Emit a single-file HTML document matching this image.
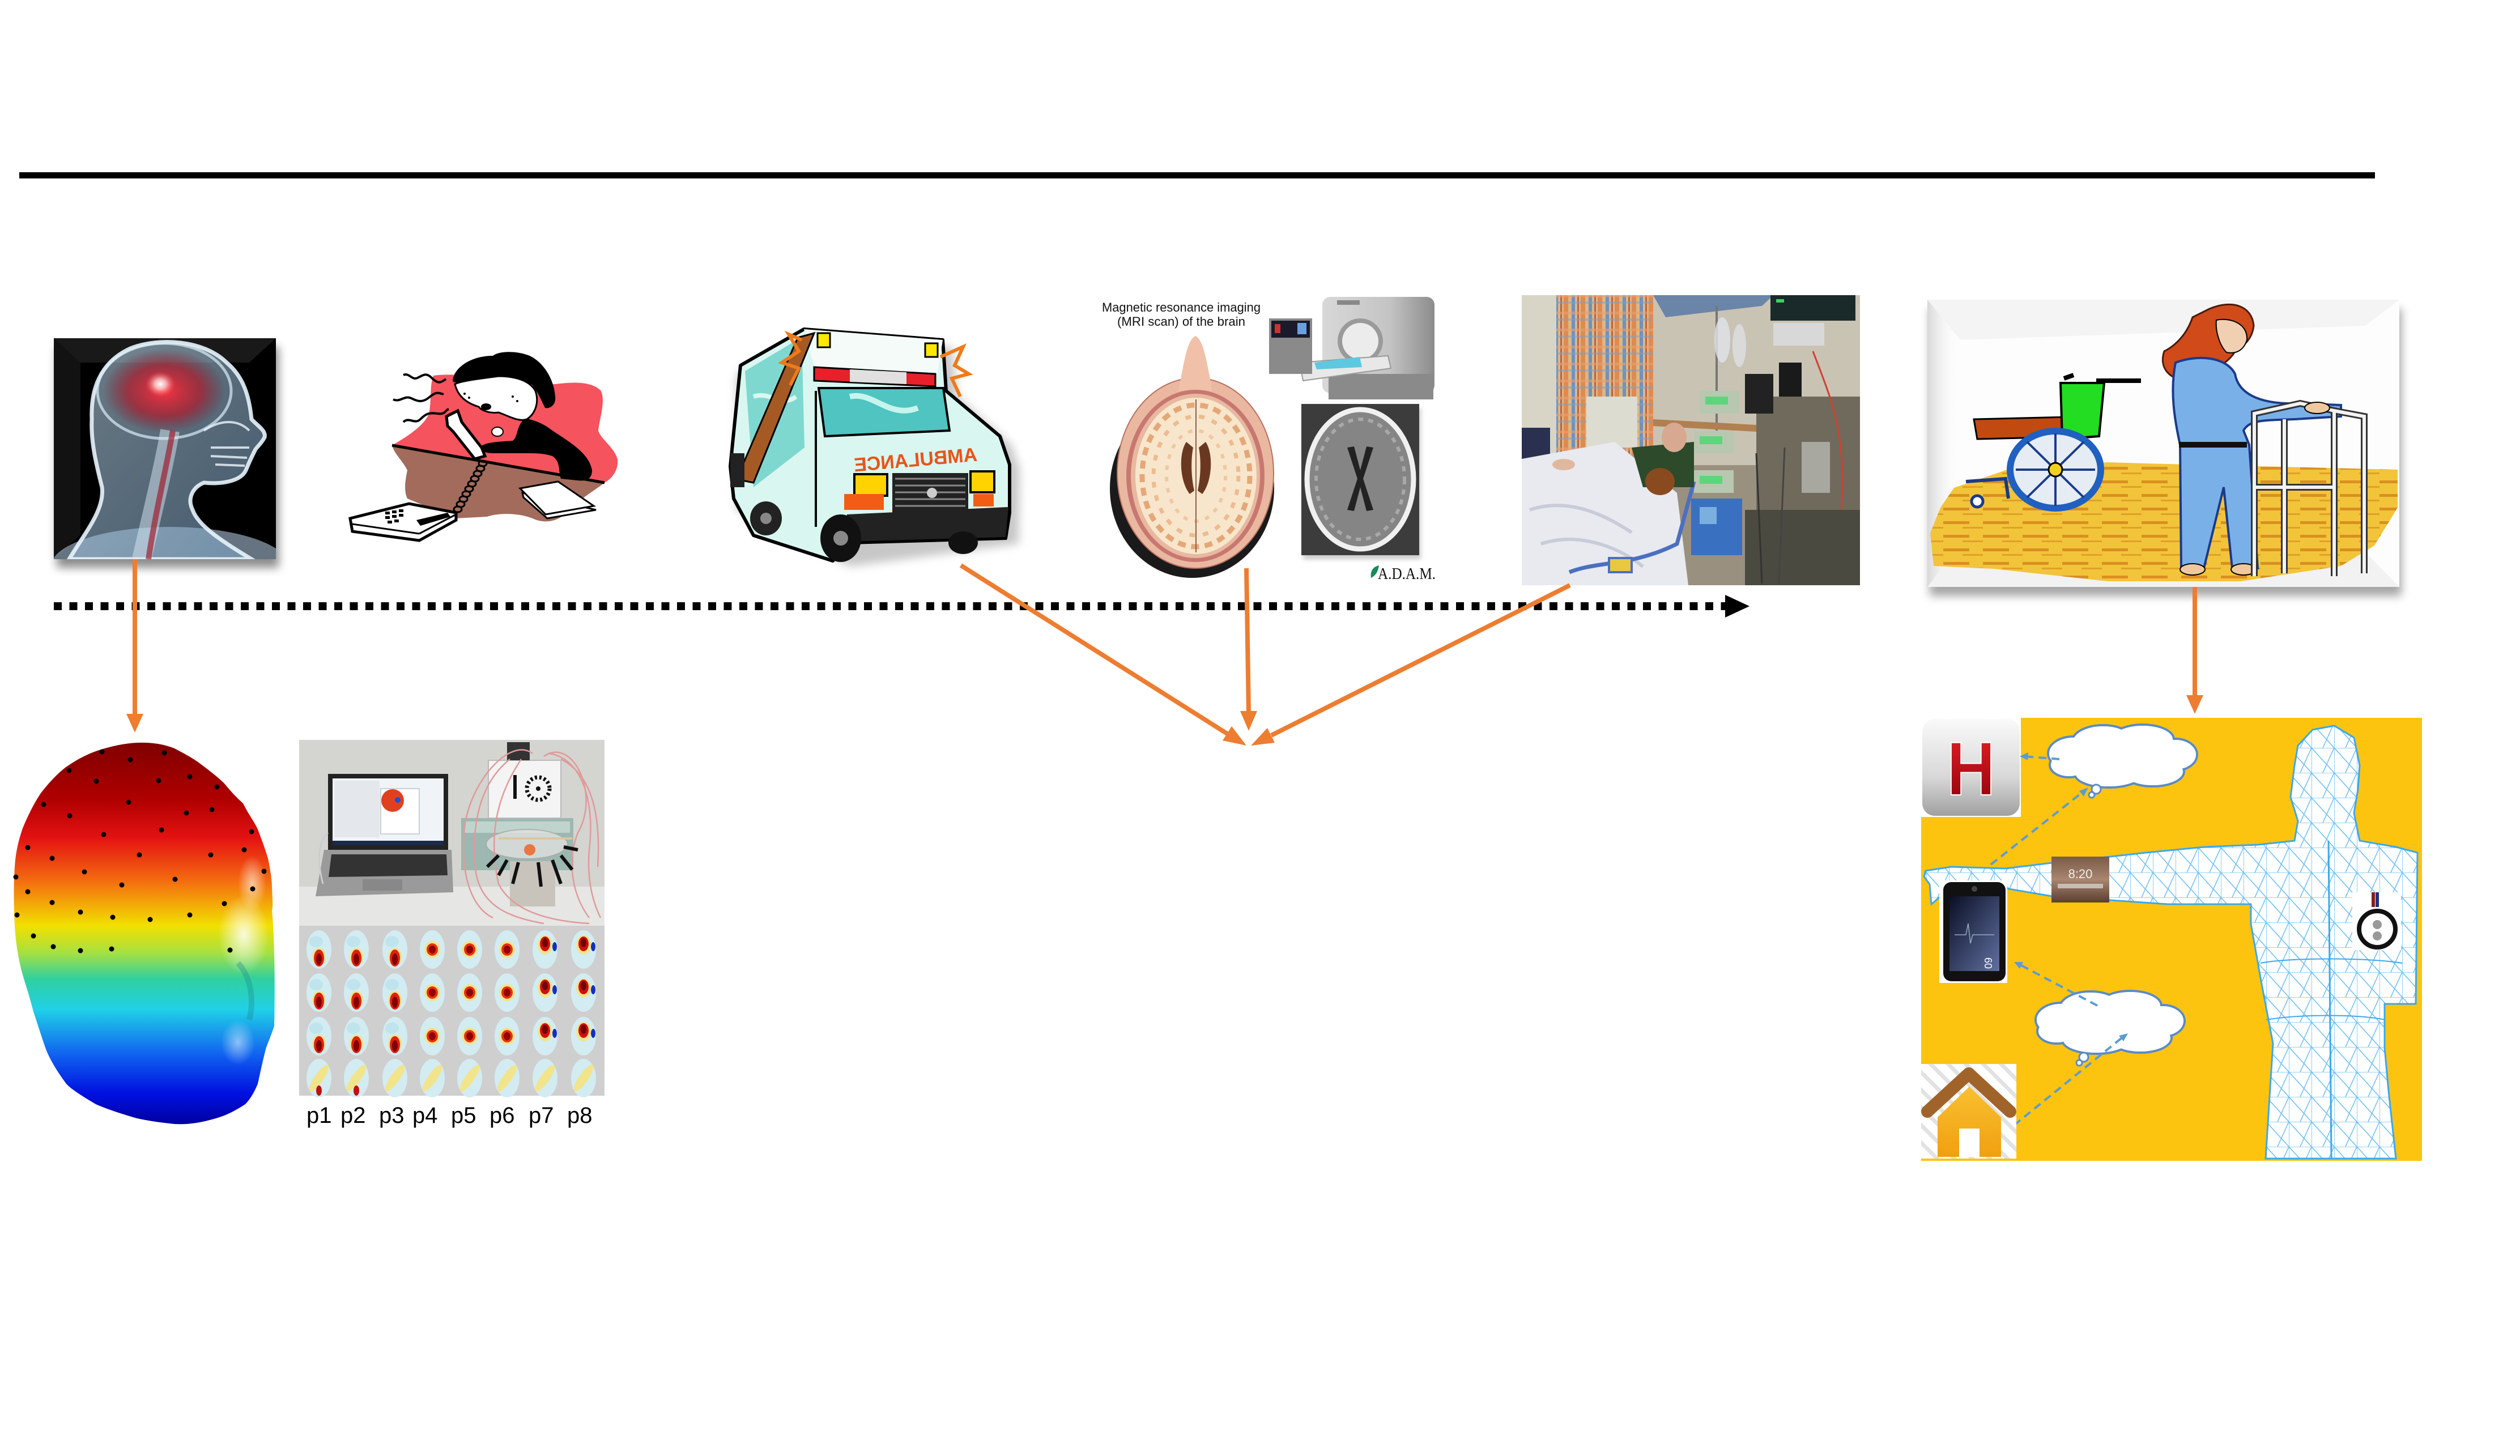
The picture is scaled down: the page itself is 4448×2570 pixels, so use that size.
<!DOCTYPE html>
<html><head><meta charset="utf-8">
<style>
html,body{margin:0;padding:0;background:#fff;}
body{width:4448px;height:2570px;overflow:hidden;}
svg{display:block;}
</style></head><body>
<svg width="4448" height="2570" viewBox="0 0 4448 2570" xmlns="http://www.w3.org/2000/svg">
<defs>
  <filter id="blur8" x="-20%" y="-20%" width="140%" height="140%"><feGaussianBlur stdDeviation="8"/></filter>
  <filter id="blur4" x="-20%" y="-20%" width="140%" height="140%"><feGaussianBlur stdDeviation="4"/></filter>
  <clipPath id="clipBrain"><rect x="95" y="597" width="392" height="390"/></clipPath>
  <clipPath id="clipHosp"><rect x="2686" y="521" width="597" height="512"/></clipPath>
  <clipPath id="clipWheel"><rect x="3402" y="529" width="833" height="507"/></clipPath>
  <clipPath id="clipEEG"><rect x="528" y="1306" width="539" height="328"/></clipPath>
  <radialGradient id="brainGlow" cx="0.5" cy="0.5" r="0.5">
    <stop offset="0" stop-color="#ff3040" stop-opacity="0.95"/>
    <stop offset="0.6" stop-color="#b01828" stop-opacity="0.7"/>
    <stop offset="1" stop-color="#801020" stop-opacity="0"/>
  </radialGradient>
  <radialGradient id="whiteSpot" cx="0.5" cy="0.5" r="0.5">
    <stop offset="0" stop-color="#ffffff"/>
    <stop offset="0.4" stop-color="#ffd0d0" stop-opacity="0.8"/>
    <stop offset="1" stop-color="#ff6060" stop-opacity="0"/>
  </radialGradient>
  <linearGradient id="headGrad" gradientUnits="userSpaceOnUse" x1="0" y1="1311" x2="0" y2="1984">
    <stop offset="0" stop-color="#800000"/>
    <stop offset="0.15" stop-color="#b00000"/>
    <stop offset="0.25" stop-color="#e41212"/>
    <stop offset="0.36" stop-color="#f46a10"/>
    <stop offset="0.48" stop-color="#f2e000"/>
    <stop offset="0.55" stop-color="#a8e040"/>
    <stop offset="0.62" stop-color="#30d0a0"/>
    <stop offset="0.70" stop-color="#20d0e8"/>
    <stop offset="0.82" stop-color="#1060f0"/>
    <stop offset="0.92" stop-color="#0010e0"/>
    <stop offset="1" stop-color="#0000a0"/>
  </linearGradient>
  <radialGradient id="faceHi" cx="0.5" cy="0.5" r="0.5">
    <stop offset="0" stop-color="#ffffff" stop-opacity="0.85"/>
    <stop offset="1" stop-color="#ffffff" stop-opacity="0"/>
  </radialGradient>
  <linearGradient id="xhead" x1="0" y1="0" x2="1" y2="1">
    <stop offset="0" stop-color="#c8e2f4"/>
    <stop offset="1" stop-color="#7aa4c8"/>
  </linearGradient>
  <linearGradient id="hIcon" x1="0" y1="0" x2="0" y2="1">
    <stop offset="0" stop-color="#fafafa"/>
    <stop offset="0.6" stop-color="#d8d8d8"/>
    <stop offset="1" stop-color="#a0a0a0"/>
  </linearGradient>
  <linearGradient id="hRed" x1="0" y1="0" x2="0" y2="1">
    <stop offset="0" stop-color="#e8202a"/>
    <stop offset="1" stop-color="#8a0008"/>
  </linearGradient>
  <linearGradient id="phoneScr" x1="0" y1="0" x2="1" y2="1">
    <stop offset="0" stop-color="#0a0f25"/>
    <stop offset="1" stop-color="#6070a0"/>
  </linearGradient>
  <linearGradient id="wood" x1="0" y1="0" x2="0" y2="1">
    <stop offset="0" stop-color="#7a5a48"/>
    <stop offset="0.5" stop-color="#a88670"/>
    <stop offset="1" stop-color="#5a3e30"/>
  </linearGradient>
  <linearGradient id="houseBody" x1="0" y1="0" x2="0" y2="1">
    <stop offset="0" stop-color="#f9c030"/>
    <stop offset="1" stop-color="#f0a010"/>
  </linearGradient>
  <linearGradient id="bevelL" x1="0" y1="0" x2="1" y2="0">
    <stop offset="0" stop-color="#d8d8d8"/>
    <stop offset="1" stop-color="#ffffff" stop-opacity="0"/>
  </linearGradient>
  <linearGradient id="gantry" x1="0" y1="0" x2="1" y2="0">
    <stop offset="0" stop-color="#d8d8d8"/>
    <stop offset="0.6" stop-color="#c4c4c4"/>
    <stop offset="1" stop-color="#8c8c8c"/>
  </linearGradient>
  <pattern id="plaid" width="30" height="30" patternUnits="userSpaceOnUse">
    <rect width="30" height="30" fill="#d8b888"/>
    <rect x="0" width="8" height="30" fill="#e08a50"/>
    <rect x="14" width="6" height="30" fill="#7090c0"/>
    <rect x="24" width="3" height="30" fill="#c06040"/>
    <rect y="10" width="30" height="5" fill="#e8a070" opacity=".6"/>
    <rect y="22" width="30" height="4" fill="#80a0c8" opacity=".5"/>
  </pattern>
  <pattern id="stripes" width="22" height="22" patternUnits="userSpaceOnUse" patternTransform="rotate(-45)">
    <rect width="22" height="22" fill="#ffffff"/>
    <rect width="7" height="22" fill="#e2e2e2"/>
  </pattern>
  <pattern id="wire" width="40" height="44" patternUnits="userSpaceOnUse">
    <path d="M0 0V44M0 0H40M0 0L40 44M40 0L20 44" stroke="#3aa8ee" stroke-width="1.6" fill="none"/>
  </pattern>
  <pattern id="floor" width="70" height="24" patternUnits="userSpaceOnUse">
    <rect width="70" height="24" fill="#f2c43a"/>
    <rect y="8" width="46" height="5" fill="#d89020"/>
    <rect x="34" y="18" width="36" height="3" fill="#e0a028"/>
  </pattern>
  <g id="tA"><ellipse rx="22" ry="34" fill="#d2ecf2"/><ellipse cx="-5" cy="-14" rx="12" ry="10" fill="#bfe4ee"/><ellipse cy="13" rx="12" ry="16" fill="#f2e48a"/><ellipse cy="15" rx="9" ry="15" fill="#e02010"/><ellipse cy="17" rx="5" ry="10" fill="#800000"/></g>
  <g id="tB"><ellipse rx="22" ry="34" fill="#d2ecf2"/><ellipse rx="14" ry="15" fill="#f2e48a"/><ellipse rx="10" ry="11" fill="#e83010"/><ellipse rx="6" ry="7" fill="#900000"/></g>
  <g id="tC"><ellipse rx="22" ry="34" fill="#d2ecf2"/><ellipse cy="-8" rx="13" ry="17" fill="#f2e48a"/><ellipse cy="-10" rx="9" ry="13" fill="#d01010"/><ellipse cy="-12" rx="5" ry="8" fill="#700000"/><ellipse cx="17" cy="-5" rx="4" ry="8" fill="#1030c0"/></g>
  <g id="tD"><ellipse rx="22" ry="34" fill="#d2ecf2"/><ellipse rx="8" ry="28" fill="#f2e48a" transform="rotate(35)"/></g>
  <g id="tE"><ellipse rx="22" ry="34" fill="#d2ecf2"/><ellipse rx="8" ry="28" fill="#f2e48a" transform="rotate(35)"/><ellipse cy="22" rx="5" ry="9" fill="#c01010"/></g>
</defs>

<rect width="4448" height="2570" fill="#fff"/>

<!-- top line -->
<rect x="34" y="304" width="4158" height="11" fill="#000"/>

<!-- ============ Brain X-ray ============ -->
<rect x="100" y="612" width="392" height="390" fill="#000" opacity="0.45" filter="url(#blur8)"/>
<rect x="95" y="597" width="392" height="390" fill="#000"/>
<g clip-path="url(#clipBrain)">
  <polygon points="95,597 487,597 440,640 142,640" fill="#2a2a2a" opacity="0.6"/>
  <polygon points="95,597 142,640 142,944 95,987" fill="#1e1e1e" opacity="0.6"/>
  <ellipse cx="300" cy="1000" rx="210" ry="70" fill="#b8d4ea" opacity="0.55"/>
  <path d="M122 987 C150 940,185 900,180 860 C170 820,160 780,162 740 C160 690,175 640,230 615 C280 595,360 600,400 640 C430 665,440 700,444 740 C455 752,470 760,467 772 C460 785,452 790,450 795 C445 805,440 815,434 830 C425 850,390 855,360 852 C340 860,330 880,340 900 C350 930,400 960,444 987 Z" fill="url(#xhead)" fill-opacity="0.55" stroke="#e8f4fc" stroke-width="7" stroke-opacity="0.9"/>
  <ellipse cx="290" cy="690" rx="108" ry="74" fill="url(#brainGlow)"/>
  <ellipse cx="290" cy="690" rx="118" ry="84" fill="none" stroke="#d8ecf8" stroke-width="5" opacity="0.7"/>
  <path d="M300 760 C290 820,270 900,250 987" stroke="#d8e8f4" stroke-width="34" fill="none" opacity="0.5"/>
  <path d="M305 760 C295 820,275 900,262 987" stroke="#a02030" stroke-width="10" fill="none" opacity="0.7"/>
  <path d="M372 790 L440 790 M372 805 L436 808 M380 820 L432 822 M360 760 C390 740,420 740,440 760" stroke="#eef6fc" stroke-width="4" fill="none" opacity="0.8"/>
  <ellipse cx="283" cy="678" rx="26" ry="22" fill="url(#whiteSpot)"/>
</g>

<!-- ============ Phone clipart ============ -->
<path d="M765 663 C820 655,940 680,979 678 C1000 676,1040 670,1060 689 C1070 705,1058 740,1056 760 C1060 775,1085 790,1090 811 C1092 830,1080 845,1067 852 L692 786 C720 770,750 750,757 730 C762 710,758 680,765 663 Z" fill="#f5535d"/>
<path d="M692 786 L1067 852 C1055 862,1010 890,995 908 C985 920,960 925,940 915 C915 905,880 905,860 912 L803 915 L719 880 C712 865,716 845,719 830 C712 815,695 800,692 786 Z" fill="#a26b5b"/>
<line x1="692" y1="786" x2="1067" y2="852" stroke="#000" stroke-width="5"/>
<path d="M926 738 C945 742,960 748,975 760 C1005 780,1040 800,1045 830 C1045 845,1035 850,1020 848 L990 845 C985 830,990 815,975 805 C960 800,945 800,930 800 L880 800 C865 800,852 800,848 792 C848 782,870 780,905 778 C915 770,910 755,926 738 Z" fill="#000"/>
<path d="M799 673 C800 650,830 628,870 628 C880 620,910 618,935 628 C960 640,978 670,980 700 C982 715,970 722,962 720 C955 705,948 690,940 680 C920 665,880 662,850 670 C830 675,810 680,799 673 Z" fill="#000"/>
<path d="M803 678 C815 672,850 668,880 664 C910 664,935 672,945 690 C952 710,945 730,930 740 C915 745,900 735,880 728 C865 730,850 725,845 718 C825 712,808 700,803 678 Z" fill="#fff" stroke="#000" stroke-width="3"/>
<ellipse cx="858" cy="718" rx="9" ry="6" fill="#000"/>
<circle cx="905" cy="700" r="2" fill="#000"/><circle cx="913" cy="708" r="2" fill="#000"/><circle cx="820" cy="695" r="2" fill="#000"/><circle cx="828" cy="702" r="2" fill="#000"/>
<ellipse cx="878" cy="762" rx="10" ry="8" fill="#fff" stroke="#000" stroke-width="2"/>
<polygon points="788,735 808,725 815,745 850,790 856,805 838,810 800,762 790,752" fill="#fff" stroke="#000" stroke-width="5"/>
<path d="M712 662 c10 -5 15 10 25 5 s15 -10 25 0 s15 10 25 2" stroke="#000" stroke-width="4" fill="none"/>
<path d="M694 705 c12 6 20 -8 32 -2 s20 8 32 -2 s15 -8 25 -5" stroke="#000" stroke-width="4" fill="none"/>
<path d="M712 745 c10 -10 20 5 30 -5 s15 -12 30 -10 s12 -5 20 -8" stroke="#000" stroke-width="4" fill="none"/>
<g fill="none" stroke="#000" stroke-width="3">
  <ellipse cx="852" cy="818" rx="7" ry="5"/><ellipse cx="848" cy="827" rx="7" ry="5"/><ellipse cx="843" cy="836" rx="7" ry="5"/><ellipse cx="838" cy="845" rx="7" ry="5"/><ellipse cx="833" cy="854" rx="7" ry="5"/><ellipse cx="828" cy="863" rx="7" ry="5"/><ellipse cx="823" cy="872" rx="7" ry="5"/><ellipse cx="818" cy="881" rx="7" ry="5"/><ellipse cx="813" cy="890" rx="7" ry="5"/><ellipse cx="808" cy="899" rx="7" ry="5"/>
</g>
<polygon points="618,915 722,889 805,905 805,918 740,954 622,938" fill="#fff" stroke="#000" stroke-width="5"/>
<line x1="622" y1="925" x2="740" y2="942" stroke="#000" stroke-width="3"/>
<line x1="740" y1="942" x2="805" y2="908" stroke="#000" stroke-width="3"/>
<g fill="#000"><rect x="680" y="903" width="8" height="5"/><rect x="692" y="901" width="8" height="5"/><rect x="704" y="899" width="8" height="5"/><rect x="680" y="911" width="8" height="5"/><rect x="692" y="909" width="8" height="5"/><rect x="704" y="907" width="8" height="5"/><rect x="684" y="919" width="8" height="5"/><rect x="696" y="917" width="8" height="5"/></g>
<polygon points="735,918 790,905 795,912 742,928" fill="#000"/>
<polygon points="922,870 1052,900 966,915 924,878" fill="#fff" stroke="#000" stroke-width="3"/>
<polygon points="918,862 985,850 1048,893 963,908" fill="#fff" stroke="#000" stroke-width="3"/>

<!-- ============ Ambulance ============ -->
<path d="M1300 660 L1425 595 L1680 612 L1690 700 L1785 785 L1800 830 L1798 960 L1500 1000 L1300 900 Z" fill="#9a9a9a" opacity="0.55" filter="url(#blur8)"/>
<path d="M1307 645 L1419 581 L1664 600 L1670 690 L1765 770 L1782 820 L1782 905 L1775 950 L1500 958 L1470 990 L1330 945 L1295 880 L1289 823 Z" fill="#d9f7f0" stroke="#000" stroke-width="6" stroke-linejoin="round"/>
<polygon points="1315,655 1415,595 1420,790 1330,860" fill="#7fd8d0"/>
<path d="M1330 700 C1360 690,1380 720,1405 700" stroke="#d9f7f0" stroke-width="8" fill="none"/>
<polygon points="1419,581 1664,600 1655,660 1437,648" fill="#f4fbf9"/>
<polygon points="1408,596 1437,588 1330,852 1300,846" fill="#a55a24" stroke="#000" stroke-width="3"/>
<polygon points="1437,648 1651,660 1651,682 1437,672" fill="#e8202a" stroke="#000" stroke-width="3"/>
<polygon points="1500,652 1600,657 1600,678 1500,674" fill="#e0e0e0"/>
<rect x="1443" y="588" width="22" height="25" fill="#ffe800" stroke="#000" stroke-width="3"/>
<rect x="1633" y="606" width="22" height="24" fill="#ffe800" stroke="#000" stroke-width="3"/>
<path d="M1415 600 L1392 590 L1410 620 L1380 640 L1410 650 L1395 680" stroke="#f07a1a" stroke-width="6" fill="none"/>
<path d="M1660 630 L1700 612 L1685 645 L1710 660 L1680 668 L1695 700" stroke="#f07a1a" stroke-width="6" fill="none"/>
<polygon points="1445,685 1665,685 1676,760 1456,770" fill="#4fc4c0" stroke="#000" stroke-width="4"/>
<path d="M1500 700 C1540 690,1570 740,1620 720" stroke="#c8f4ee" stroke-width="10" fill="none"/>
<line x1="1440" y1="690" x2="1440" y2="930" stroke="#000" stroke-width="4"/>
<text x="0" y="0" font-family="Liberation Sans, sans-serif" font-weight="bold" font-size="34" fill="#e8541a" text-anchor="middle" textLength="218" lengthAdjust="spacingAndGlyphs" transform="translate(1617,823) rotate(-5) scale(-1,1)">AMBULANCE</text>
<rect x="1508" y="837" width="58" height="38" fill="#ffd200" stroke="#000" stroke-width="4"/>
<rect x="1713" y="832" width="42" height="37" fill="#ffd200" stroke="#000" stroke-width="4"/>
<rect x="1490" y="872" width="70" height="28" fill="#f25c14"/>
<rect x="1718" y="872" width="36" height="22" fill="#f25c14"/>
<rect x="1575" y="835" width="134" height="74" fill="#222"/>
<g stroke="#888" stroke-width="3"><line x1="1580" y1="845" x2="1704" y2="845"/><line x1="1580" y1="857" x2="1704" y2="857"/><line x1="1580" y1="869" x2="1704" y2="869"/><line x1="1580" y1="881" x2="1704" y2="881"/><line x1="1580" y1="893" x2="1704" y2="893"/></g>
<circle cx="1645" cy="870" r="9" fill="#ccc"/>
<polygon points="1495,908 1780,895 1775,948 1495,956" fill="#222"/>
<rect x="1289" y="800" width="25" height="60" fill="#222"/>
<ellipse cx="1352" cy="915" rx="28" ry="30" fill="#222"/><circle cx="1352" cy="915" r="10" fill="#888"/>
<ellipse cx="1484" cy="950" rx="36" ry="42" fill="#111"/><circle cx="1484" cy="950" r="13" fill="#888"/>
<ellipse cx="1700" cy="958" rx="26" ry="20" fill="#111"/>

<!-- ============ MRI ============ -->
<text x="2085" y="550" font-family="Liberation Sans Narrow, Liberation Sans, sans-serif" font-size="22" fill="#111" text-anchor="middle" textLength="280" lengthAdjust="spacingAndGlyphs">Magnetic resonance imaging</text>
<text x="2085" y="575" font-family="Liberation Sans Narrow, Liberation Sans, sans-serif" font-size="22" fill="#111" text-anchor="middle" textLength="226" lengthAdjust="spacingAndGlyphs">(MRI scan) of the brain</text>
<ellipse cx="2104" cy="862" rx="145" ry="158" fill="#1a1a1a"/>
<ellipse cx="2110" cy="835" rx="138" ry="168" fill="#eab8a0" stroke="#b87060" stroke-width="2"/>
<path d="M2080 690 C2090 640,2095 600,2110 593 C2125 600,2130 640,2140 690 Z" fill="#f0c0a8"/>
<ellipse cx="2110" cy="840" rx="122" ry="152" fill="#c87870"/>
<ellipse cx="2110" cy="840" rx="114" ry="145" fill="#e8b8a0"/>
<ellipse cx="2111" cy="840" rx="107" ry="138" fill="#f8e6cc"/>
<ellipse cx="2111" cy="840" rx="95" ry="125" fill="none" stroke="#e4a878" stroke-width="9" stroke-dasharray="14 10"/>
<ellipse cx="2111" cy="840" rx="75" ry="105" fill="none" stroke="#ecbc90" stroke-width="7" stroke-dasharray="10 14"/>
<ellipse cx="2111" cy="840" rx="52" ry="80" fill="none" stroke="#f0c8a0" stroke-width="6" stroke-dasharray="8 12"/>
<line x1="2111" y1="705" x2="2111" y2="975" stroke="#8a6050" stroke-width="2"/>
<path d="M2094 780 C2080 800,2082 850,2100 872 L2108 866 C2102 840,2102 810,2106 790 Z" fill="#6a3820"/>
<path d="M2128 780 C2142 800,2140 850,2122 872 L2114 866 C2120 840,2120 810,2116 790 Z" fill="#6a3820"/>
<!-- MRI machine -->
<rect x="2334" y="524" width="198" height="170" rx="14" fill="url(#gantry)"/>
<rect x="2345" y="660" width="185" height="45" fill="#8a8a8a"/>
<ellipse cx="2401" cy="602" rx="40" ry="40" fill="#9a9a9a"/>
<ellipse cx="2401" cy="602" rx="32" ry="32" fill="#ececec"/>
<rect x="2360" y="530" width="40" height="8" fill="#888"/>
<polygon points="2294,640 2450,628 2455,650 2300,672" fill="#e8e8e8" stroke="#999" stroke-width="2"/>
<polygon points="2320,640 2400,630 2404,648 2324,652" fill="#5ec8e0"/>
<rect x="2240" y="562" width="76" height="98" fill="#8a8a8a"/>
<rect x="2244" y="566" width="68" height="30" fill="#1a1a2a"/>
<rect x="2250" y="572" width="10" height="16" fill="#d03030"/><rect x="2290" y="570" width="16" height="20" fill="#6aa0e0"/>
<!-- MRI scan -->
<rect x="2300" y="720" width="208" height="267" fill="#999" opacity="0.5" filter="url(#blur4)"/>
<rect x="2297" y="713" width="208" height="267" fill="#3c3c3c"/>
<ellipse cx="2401" cy="846" rx="94" ry="123" fill="#858585" stroke="#f0f0f0" stroke-width="9"/>
<ellipse cx="2401" cy="846" rx="78" ry="106" fill="none" stroke="#a8a8a8" stroke-width="6" stroke-dasharray="9 9"/>
<path d="M2378 790 L2396 845 L2378 900 L2390 902 L2401 860 L2412 902 L2424 900 L2406 845 L2424 790 L2412 788 L2401 830 L2390 788 Z" fill="#222"/>
<!-- ADAM -->
<path d="M2420 1020 C2418 1008,2424 1000,2434 998 C2432 1010,2428 1016,2420 1020 Z" fill="#1a8a5a"/>
<text x="2432" y="1022" font-family="Liberation Serif, serif" font-size="28" fill="#111" textLength="102" lengthAdjust="spacingAndGlyphs">A.D.A.M.</text>

<!-- ============ Hospital photo ============ -->
<g clip-path="url(#clipHosp)">
  <rect x="2686" y="521" width="597" height="512" fill="#9a9080"/>
  <rect x="2918" y="521" width="365" height="300" fill="#c9c3b4"/>
  <rect x="2686" y="521" width="61" height="300" fill="#d8d4c6"/>
  <rect x="2747" y="521" width="171" height="300" fill="url(#plaid)"/>
  <polygon points="2918,521 3130,521 3110,540 2940,560" fill="#6a85a8"/>
  <rect x="3125" y="521" width="150" height="45" fill="#1a2a2a"/>
  <rect x="3135" y="528" width="14" height="6" fill="#40d060"/>
  <rect x="3130" y="570" width="90" height="40" fill="#d8d8d8"/>
  <line x1="3030" y1="540" x2="3030" y2="780" stroke="#777" stroke-width="4"/>
  <ellipse cx="3040" cy="600" rx="14" ry="40" fill="#e0e4e8" opacity="0.8"/>
  <ellipse cx="3070" cy="610" rx="12" ry="38" fill="#e0e4e8" opacity="0.7"/>
  <polygon points="2918,740 3283,760 3283,772 2918,752" fill="#b08050"/>
  <rect x="2800" y="700" width="90" height="90" fill="#dcdcd0"/>
  <rect x="3100" y="700" width="183" height="333" fill="#6f6a5c"/>
  <rect x="3000" y="690" width="70" height="40" fill="#b8c8b0"/><rect x="3010" y="700" width="40" height="14" fill="#5bd67a"/>
  <rect x="2990" y="760" width="70" height="40" fill="#b8c8b0"/><rect x="3000" y="770" width="40" height="14" fill="#5bd67a"/>
  <rect x="2990" y="830" width="70" height="40" fill="#b8c8b0"/><rect x="3000" y="840" width="40" height="14" fill="#5bd67a"/>
  <rect x="3080" y="660" width="50" height="70" fill="#222"/>
  <rect x="3140" y="640" width="40" height="60" fill="#1a1a1a"/>
  <rect x="3180" y="780" width="50" height="90" fill="#a8a8a0"/>
  <path d="M3200 620 C3230 700,3260 760,3250 900" stroke="#d04030" stroke-width="3" fill="none"/>
  <rect x="2686" y="755" width="50" height="80" fill="#2a3050"/>
  <polygon points="2686,810 2850,780 2960,870 2980,1033 2686,1033" fill="#e8eaf0"/>
  <path d="M2700 900 C2760 880,2820 900,2880 940 M2720 960 C2780 940,2850 960,2900 1000" stroke="#c8ccd8" stroke-width="6" fill="none"/>
  <path d="M2770 1010 C2820 990,2880 1000,2960 960 L2990 850" stroke="#4a70c0" stroke-width="7" fill="none"/>
  <rect x="2840" y="985" width="40" height="25" fill="#e8c840" stroke="#4a70c0" stroke-width="4"/>
  <polygon points="2880,790 2990,780 2990,860 2900,860" fill="#2d4a2a"/>
  <ellipse cx="2955" cy="772" rx="22" ry="26" fill="#d8a890"/>
  <ellipse cx="2930" cy="850" rx="26" ry="24" fill="#8a4a20"/>
  <ellipse cx="2760" cy="820" rx="20" ry="10" fill="#e0b8a0"/>
  <rect x="2985" y="880" width="90" height="100" fill="#3a70c0"/>
  <rect x="3000" y="895" width="30" height="30" fill="#7ab0e0"/>
  <rect x="3080" y="900" width="203" height="133" fill="#4a4a40"/>
  <line x1="3100" y1="800" x2="3110" y2="1030" stroke="#333" stroke-width="3"/>
  <line x1="3150" y1="790" x2="3140" y2="1030" stroke="#444" stroke-width="3"/>
</g>

<!-- ============ Wheelchair box ============ -->
<rect x="3406" y="545" width="833" height="507" fill="#000" opacity="0.35" filter="url(#blur8)"/>
<rect x="3402" y="529" width="833" height="507" fill="#fdfdfd"/>
<g clip-path="url(#clipWheel)">
  <polygon points="3402,529 3460,600 3460,960 3402,1036" fill="url(#bevelL)"/>
  <polygon points="3402,529 4235,529 4175,575 3460,600" fill="#f0f0f0" opacity="0.7"/>
  <polygon points="3402,1036 3460,960 4180,980 4235,1036" fill="#e8e8e8" opacity="0.5"/>
  <path d="M3449 861 L3543 829 L3720 816 L3896 821 L4073 825 L4232 829 L4232 896 L4191 963 L4132 999 L3955 1026 L3720 1026 L3519 1004 L3413 999 L3407 941 L3425 896 Z" fill="url(#floor)"/>
  <!-- wheelchair -->
  <polygon points="3484,740 3650,736 3649,771 3490,775" fill="#c04a10" stroke="#000" stroke-width="3"/>
  <polygon points="3637,676 3714,676 3705,770 3640,775" fill="#22dd22" stroke="#000" stroke-width="4"/>
  <path d="M3643 668 L3660 662 M3700 672 L3779 672" stroke="#000" stroke-width="8"/>
  <ellipse cx="3628" cy="829" rx="80" ry="68" fill="#e6ecf4" stroke="#2060c0" stroke-width="12"/>
  <g stroke="#1a3a8a" stroke-width="4"><line x1="3558" y1="829" x2="3698" y2="829"/><line x1="3628" y1="765" x2="3628" y2="893"/><line x1="3578" y1="780" x2="3678" y2="878"/><line x1="3678" y1="780" x2="3578" y2="878"/></g>
  <circle cx="3628" cy="829" r="12" fill="#f0d020" stroke="#000" stroke-width="3"/>
  <path d="M3470 850 L3540 845 L3545 880" stroke="#1a3a8a" stroke-width="6" fill="none"/>
  <circle cx="3490" cy="885" r="10" fill="#fff" stroke="#1a3a8a" stroke-width="5"/>
  <!-- woman -->
  <path d="M3900 545 C3940 528,3975 540,3978 575 C3975 600,3960 610,3945 620 C3935 640,3900 660,3860 672 C3830 670,3810 650,3820 620 C3840 610,3860 590,3870 560 Z" fill="#d04a1a" stroke="#4a1a08" stroke-width="3"/>
  <path d="M3912 565 C3935 560,3968 570,3966 600 C3960 620,3945 625,3930 622 C3918 610,3910 585,3912 565 Z" fill="#f0d0b0" stroke="#000" stroke-width="2"/>
  <path d="M3840 640 C3880 625,3930 630,3945 660 C3950 690,3980 715,4060 712 L4132 715 L4132 735 L4050 740 C4000 742,3970 740,3960 760 L3970 785 L3985 1003 L3940 1003 L3925 860 L3890 1003 L3850 1003 L3848 785 C3838 740,3830 690,3840 640 Z" fill="#7ab0e8" stroke="#1a3a8a" stroke-width="4"/>
  <rect x="3846" y="780" width="120" height="10" fill="#111"/>
  <ellipse cx="3870" cy="1005" rx="22" ry="10" fill="#f0c8a0" stroke="#000" stroke-width="2"/>
  <ellipse cx="3960" cy="1005" rx="22" ry="10" fill="#f0c8a0" stroke="#000" stroke-width="2"/>
  <!-- walker -->
  <g fill="none" stroke="#333" stroke-width="12"><path d="M3979 1017 L3979 730 L4060 712 L4120 725 L4120 1017"/><path d="M4032 1012 L4032 740 M4173 1012 L4173 735 L4120 725"/><line x1="3979" y1="860" x2="4120" y2="860"/></g>
  <g fill="none" stroke="#f2f2f2" stroke-width="6"><path d="M3979 1017 L3979 730 L4060 712 L4120 725 L4120 1017"/><path d="M4032 1012 L4032 740 M4173 1012 L4173 735 L4120 725"/><line x1="3979" y1="860" x2="4120" y2="860"/></g>
  <ellipse cx="4090" cy="720" rx="22" ry="10" fill="#f0c8a0" stroke="#000" stroke-width="2"/>
</g>

<!-- ============ 3D head ============ -->
<path d="M242 1311 C270 1310,290 1314,308 1321 C325 1330,340 1338,352 1347 C372 1362,385 1372,396 1383 C410 1400,420 1410,429 1418 C440 1440,450 1452,455 1464 C465 1490,470 1505,473 1515 C478 1540,480 1555,480 1566 C481 1590,482 1600,480 1607 C484 1650,486 1720,484 1811 C478 1830,472 1842,469 1852 C462 1880,458 1900,455 1913 C448 1930,440 1942,433 1949 C410 1964,395 1970,381 1974 C350 1983,330 1985,308 1984 C280 1981,260 1978,242 1974 C210 1965,185 1956,169 1949 C145 1935,125 1922,117 1913 C100 1890,88 1870,81 1852 C70 1820,64 1800,59 1786 C50 1750,42 1730,37 1709 C30 1680,27 1655,26 1633 C24 1600,24 1560,26 1530 C28 1500,34 1480,40 1462 C50 1438,60 1418,72 1400 C86 1382,100 1367,115 1355 C135 1341,152 1332,172 1325 C196 1317,220 1312,242 1311 Z" fill="url(#headGrad)"/>
<ellipse cx="430" cy="1650" rx="45" ry="70" fill="url(#faceHi)"/>
<ellipse cx="445" cy="1560" rx="25" ry="50" fill="url(#faceHi)" opacity="0.7"/>
<ellipse cx="420" cy="1840" rx="30" ry="40" fill="url(#faceHi)" opacity="0.6"/>
<path d="M420 1700 C440 1720,450 1760,440 1800" stroke="#1a8a8a" stroke-width="10" fill="none" opacity="0.35"/>
<g fill="#000">
<circle cx="180" cy="1327" r="4.5"/><circle cx="230" cy="1341" r="4.5"/><circle cx="290" cy="1329" r="4.5"/><circle cx="122" cy="1360" r="4.5"/><circle cx="170" cy="1379" r="4.5"/><circle cx="280" cy="1378" r="4.5"/><circle cx="335" cy="1371" r="4.5"/><circle cx="383" cy="1389" r="4.5"/><circle cx="77" cy="1420" r="4.5"/><circle cx="227" cy="1416" r="4.5"/><circle cx="329" cy="1435" r="4.5"/><circle cx="374" cy="1429" r="4.5"/><circle cx="123" cy="1440" r="4.5"/><circle cx="183" cy="1473" r="4.5"/><circle cx="285" cy="1465" r="4.5"/><circle cx="444" cy="1468" r="4.5"/><circle cx="49" cy="1496" r="4.5"/><circle cx="92" cy="1515" r="4.5"/><circle cx="246" cy="1509" r="4.5"/><circle cx="372" cy="1509" r="4.5"/><circle cx="431" cy="1500" r="4.5"/><circle cx="149" cy="1539" r="4.5"/><circle cx="215" cy="1562" r="4.5"/><circle cx="309" cy="1552" r="4.5"/><circle cx="28" cy="1548" r="4.5"/><circle cx="466" cy="1538" r="4.5"/><circle cx="49" cy="1574" r="4.5"/><circle cx="92" cy="1593" r="4.5"/><circle cx="142" cy="1610" r="4.5"/><circle cx="199" cy="1619" r="4.5"/><circle cx="265" cy="1623" r="4.5"/><circle cx="335" cy="1615" r="4.5"/><circle cx="396" cy="1595" r="4.5"/><circle cx="446" cy="1569" r="4.5"/><circle cx="30" cy="1615" r="4.5"/><circle cx="59" cy="1652" r="4.5"/><circle cx="94" cy="1671" r="4.5"/><circle cx="142" cy="1678" r="4.5"/><circle cx="197" cy="1675" r="4.5"/><circle cx="406" cy="1677" r="4.5"/>
</g>

<!-- ============ EEG photo ============ -->
<g clip-path="url(#clipEEG)">
  <rect x="528" y="1306" width="539" height="328" fill="#d4d4d0"/>
  <rect x="528" y="1565" width="539" height="69" fill="#e6e6e4"/>
  <rect x="579" y="1366" width="212" height="134" fill="#222"/>
  <rect x="587" y="1374" width="196" height="110" fill="#f0f4f8"/>
  <rect x="590" y="1378" width="80" height="100" fill="#e4e8ec"/>
  <rect x="672" y="1392" width="68" height="80" fill="#fff" stroke="#9ab" stroke-width="1"/>
  <circle cx="693" cy="1413" r="20" fill="#e04020"/>
  <circle cx="702" cy="1412" r="5" fill="#2050d0"/>
  <rect x="587" y="1484" width="196" height="8" fill="#1a2a4a"/>
  <polygon points="572,1500 797,1500 800,1575 557,1582" fill="#9a9a9a"/>
  <polygon points="585,1508 788,1508 790,1545 580,1548" fill="#333"/>
  <rect x="640" y="1552" width="70" height="20" fill="#888"/>
  <path d="M579 1470 C560 1490,560 1520,570 1560" stroke="#ccc" stroke-width="3" fill="none"/>
  <rect x="814" y="1444" width="198" height="92" fill="#9cb8b0"/>
  <rect x="820" y="1450" width="186" height="20" fill="#c0d4ce"/>
  <rect x="900" y="1520" width="80" height="80" fill="#c8c4bc"/>
  <ellipse cx="930" cy="1490" rx="72" ry="26" fill="#e0e0e0" opacity="0.8" stroke="#aaa" stroke-width="2"/>
  <line x1="880" y1="1480" x2="1010" y2="1480" stroke="#d8c8a0" stroke-width="4"/>
  <circle cx="935" cy="1500" r="10" fill="#e87840"/>
  <rect x="862" y="1342" width="128" height="102" fill="#f4f4f4" stroke="#bbb" stroke-width="2"/>
  <rect x="906" y="1368" width="6" height="42" fill="#111"/>
  <circle cx="950" cy="1392" r="20" fill="none" stroke="#111" stroke-width="7" stroke-dasharray="4 4"/>
  <circle cx="950" cy="1392" r="4" fill="#111"/>
  <rect x="895" y="1310" width="40" height="32" fill="#333"/>
  <g stroke="#e09a9a" stroke-width="2.5" fill="none">
    <path d="M900 1340 C850 1380,830 1450,840 1540 C850 1600,900 1620,960 1630"/>
    <path d="M920 1340 C880 1400,860 1470,880 1560 C900 1600,950 1625,1040 1630"/>
    <path d="M970 1330 C1030 1340,1050 1420,1040 1500 C1035 1560,1050 1600,1060 1620"/>
    <path d="M990 1340 C1050 1370,1060 1450,1055 1530"/>
    <path d="M940 1330 C900 1300,830 1380,820 1460 C812 1540,830 1600,870 1620"/>
    <path d="M960 1335 C1010 1300,1060 1400,1020 1470 C1000 1520,1010 1580,1040 1620"/>
  </g>
  <g stroke="#111" stroke-width="6">
    <line x1="880" y1="1510" x2="860" y2="1530"/><line x1="895" y1="1518" x2="880" y2="1545"/><line x1="915" y1="1522" x2="905" y2="1560"/><line x1="950" y1="1522" x2="955" y2="1565"/><line x1="975" y1="1518" x2="990" y2="1560"/><line x1="990" y1="1510" x2="1010" y2="1535"/><line x1="995" y1="1495" x2="1020" y2="1500"/>
  </g>
</g>

<!-- ============ Topomaps ============ -->
<rect x="528" y="1634" width="539" height="300" fill="#cfcfcf"/>
<use href="#tA" x="563" y="1676"/><use href="#tA" x="629" y="1676"/><use href="#tA" x="697" y="1676"/><use href="#tB" x="763" y="1676"/><use href="#tB" x="829" y="1676"/><use href="#tB" x="895" y="1676"/><use href="#tC" x="962" y="1676"/><use href="#tC" x="1030" y="1676"/>
<use href="#tA" x="563" y="1752"/><use href="#tA" x="629" y="1752"/><use href="#tA" x="697" y="1752"/><use href="#tB" x="763" y="1752"/><use href="#tB" x="829" y="1752"/><use href="#tB" x="895" y="1752"/><use href="#tC" x="962" y="1752"/><use href="#tC" x="1030" y="1752"/>
<use href="#tA" x="563" y="1829"/><use href="#tA" x="629" y="1829"/><use href="#tA" x="697" y="1829"/><use href="#tB" x="763" y="1829"/><use href="#tB" x="829" y="1829"/><use href="#tB" x="895" y="1829"/><use href="#tC" x="962" y="1829"/><use href="#tC" x="1030" y="1829"/>
<use href="#tE" x="563" y="1903"/><use href="#tE" x="629" y="1903"/><use href="#tD" x="697" y="1903"/><use href="#tD" x="763" y="1903"/><use href="#tD" x="829" y="1903"/><use href="#tD" x="895" y="1903"/><use href="#tD" x="962" y="1903"/><use href="#tD" x="1030" y="1903"/>
<g font-family="Liberation Sans, sans-serif" font-size="40" fill="#000">
  <text x="541" y="1982">p1</text><text x="601" y="1982">p2</text><text x="669" y="1982">p3</text><text x="728" y="1982">p4</text><text x="796" y="1982">p5</text><text x="864" y="1982">p6</text><text x="933" y="1982">p7</text><text x="1001" y="1982">p8</text>
</g>

<!-- ============ Yellow panel ============ -->
<rect x="3391" y="1267" width="884" height="782" fill="#fdc40f"/>
<rect x="3391" y="1267" width="176" height="175" fill="#fff"/>
<rect x="3393" y="1269" width="172" height="171" rx="22" fill="url(#hIcon)"/>
<text x="3479" y="1403" font-family="Liberation Sans, sans-serif" font-weight="bold" font-size="134" fill="url(#hRed)" stroke="#fff" stroke-width="2" text-anchor="middle" textLength="86" lengthAdjust="spacingAndGlyphs">H</text>
<!-- clouds -->
<g stroke="#5a8ac8" stroke-width="4" fill="#fff">
  <ellipse cx="3660" cy="1330" rx="45" ry="30"/><ellipse cx="3712" cy="1310" rx="55" ry="30"/><ellipse cx="3782" cy="1305" rx="55" ry="26"/><ellipse cx="3840" cy="1332" rx="38" ry="28"/><ellipse cx="3800" cy="1362" rx="55" ry="26"/><ellipse cx="3722" cy="1366" rx="60" ry="24"/><ellipse cx="3652" cy="1350" rx="34" ry="22"/>
  <ellipse cx="3638" cy="1800" rx="45" ry="30"/><ellipse cx="3690" cy="1780" rx="55" ry="30"/><ellipse cx="3760" cy="1775" rx="55" ry="26"/><ellipse cx="3818" cy="1802" rx="38" ry="28"/><ellipse cx="3778" cy="1832" rx="55" ry="26"/><ellipse cx="3700" cy="1836" rx="60" ry="24"/><ellipse cx="3630" cy="1820" rx="34" ry="22"/>
</g>
<g fill="#fff">
  <ellipse cx="3660" cy="1330" rx="43" ry="28"/><ellipse cx="3712" cy="1310" rx="53" ry="28"/><ellipse cx="3782" cy="1305" rx="53" ry="24"/><ellipse cx="3840" cy="1332" rx="36" ry="26"/><ellipse cx="3800" cy="1362" rx="53" ry="24"/><ellipse cx="3722" cy="1366" rx="58" ry="22"/><ellipse cx="3652" cy="1350" rx="32" ry="20"/><ellipse cx="3740" cy="1335" rx="90" ry="30"/>
  <ellipse cx="3638" cy="1800" rx="43" ry="28"/><ellipse cx="3690" cy="1780" rx="53" ry="28"/><ellipse cx="3760" cy="1775" rx="53" ry="24"/><ellipse cx="3818" cy="1802" rx="36" ry="26"/><ellipse cx="3778" cy="1832" rx="53" ry="24"/><ellipse cx="3700" cy="1836" rx="58" ry="22"/><ellipse cx="3630" cy="1820" rx="32" ry="20"/><ellipse cx="3718" cy="1805" rx="90" ry="30"/>
</g>
<g stroke="#5a8ac8" stroke-width="3" fill="#fff">
  <circle cx="3700" cy="1393" r="8"/><circle cx="3692" cy="1403" r="5"/>
  <circle cx="3678" cy="1866" r="8"/><circle cx="3670" cy="1876" r="5"/>
</g>
<!-- dashed connectors -->
<g stroke="#5b9bd5" stroke-width="4" stroke-dasharray="14 9" fill="none">
  <line x1="3635" y1="1340" x2="3572" y2="1335"/>
  <line x1="3514" y1="1526" x2="3680" y2="1395"/>
  <line x1="3702" y1="1775" x2="3562" y2="1701"/>
  <line x1="3555" y1="1986" x2="3750" y2="1828"/>
</g>
<g fill="#5b9bd5">
  <polygon points="3565,1335 3580,1328 3579,1342"/>
  <polygon points="3686,1390 3670,1396 3678,1406"/>
  <polygon points="3555,1698 3571,1698 3565,1710"/>
  <polygon points="3756,1824 3740,1828 3748,1838"/>
</g>
<!-- wireframe human -->
<path d="M4082 1288 L4120 1281 L4155 1302 L4165 1351 L4162 1393 L4155 1435 L4165 1484 L4229 1495 L4267 1505 L4264 1772 L4209 1772 L4209 1849 L4216 1926 L4229 2045 L3999 2045 L4012 1842 L3992 1737 L3973 1631 L3973 1596 L3827 1596 L3725 1589 L3622 1582 L3540 1568 L3450 1561 L3409 1596 L3406 1561 L3396 1547 L3399 1537 L3444 1530 L3540 1533 L3622 1523 L3725 1512 L3788 1505 L3890 1495 L3986 1491 L4050 1484 L4056 1449 L4043 1407 L4050 1351 L4056 1316 Z" fill="#fff" stroke="#3aa8ee" stroke-width="3"/>
<path d="M4082 1288 L4120 1281 L4155 1302 L4165 1351 L4162 1393 L4155 1435 L4165 1484 L4229 1495 L4267 1505 L4264 1772 L4209 1772 L4209 1849 L4216 1926 L4229 2045 L3999 2045 L4012 1842 L3992 1737 L3973 1631 L3973 1596 L3827 1596 L3725 1589 L3622 1582 L3540 1568 L3450 1561 L3409 1596 L3406 1561 L3396 1547 L3399 1537 L3444 1530 L3540 1533 L3622 1523 L3725 1512 L3788 1505 L3890 1495 L3986 1491 L4050 1484 L4056 1449 L4043 1407 L4050 1351 L4056 1316 Z" fill="url(#wire)" opacity="0.7"/>
<line x1="4110" y1="1484" x2="4115" y2="2045" stroke="#3aa8ee" stroke-width="3"/>
<path d="M3990 1700 C4040 1690,4180 1690,4240 1700 M4000 1800 C4060 1790,4160 1790,4210 1800" stroke="#3aa8ee" stroke-width="2" fill="none"/>
<!-- phone -->
<rect x="3423" y="1554" width="120" height="181" fill="#fff"/>
<rect x="3430" y="1557" width="110" height="175" rx="14" fill="#111"/>
<rect x="3441" y="1582" width="88" height="132" fill="url(#phoneScr)"/>
<circle cx="3485" cy="1569" r="5" fill="#444"/>
<path d="M3450 1650 L3470 1650 L3474 1630 L3478 1665 L3482 1650 L3520 1650" stroke="#9ab" stroke-width="1.5" fill="none"/>
<text x="0" y="0" font-family="Liberation Sans, sans-serif" font-size="18" fill="#fff" transform="translate(3503,1690) rotate(90)">60</text>
<!-- watch -->
<rect x="3621" y="1512" width="102" height="81" fill="url(#wood)"/>
<text x="3672" y="1550" font-family="Liberation Sans, sans-serif" font-size="22" fill="#eee" text-anchor="middle">8:20</text>
<rect x="3632" y="1560" width="80" height="8" fill="#ddd" opacity="0.7"/>
<!-- house -->
<rect x="3391" y="1878" width="168" height="167" fill="url(#stripes)"/>
<polygon points="3420,1972 3476,1918 3532,1972 3532,2042 3420,2042" fill="url(#houseBody)"/>
<rect x="3458" y="1992" width="36" height="50" fill="#fff"/>
<polyline points="3402,1962 3475,1895 3548,1962" fill="none" stroke="#a0642a" stroke-width="22" stroke-linecap="round" stroke-linejoin="round"/>
<!-- ECG sensor -->
<rect x="4152" y="1575" width="86" height="102" fill="#fff"/>
<rect x="4186" y="1575" width="6" height="26" fill="#802020"/><rect x="4193" y="1575" width="6" height="26" fill="#203080"/>
<circle cx="4196" cy="1640" r="32" fill="#fff" stroke="#111" stroke-width="8"/>
<circle cx="4196" cy="1632" r="8" fill="#999"/><circle cx="4196" cy="1652" r="8" fill="#999"/>

<!-- ============ Dotted timeline ============ -->
<line x1="95" y1="1070" x2="3046" y2="1070" stroke="#000" stroke-width="14" stroke-dasharray="14 13.5"/>
<polygon points="3045,1050 3088,1070 3045,1090" fill="#000"/>

<!-- ============ Orange connectors ============ -->
<g stroke="#ed7d31" stroke-width="8" fill="none">
  <line x1="238" y1="987" x2="238" y2="1264"/>
  <line x1="2200" y1="1003" x2="2204" y2="1258"/>
  <line x1="1696" y1="998" x2="2166" y2="1295"/>
  <line x1="2771" y1="1033" x2="2244" y2="1298"/>
  <line x1="3874" y1="1036" x2="3874" y2="1230"/>
</g>
<g fill="#ed7d31">
  <polygon points="223,1260 253,1260 238,1293"/>
  <polygon points="2189,1255 2219,1255 2204,1290"/>
  <polygon points="2158,1307 2174,1282 2200,1316"/>
  <polygon points="2237,1285 2250,1311 2208,1316"/>
  <polygon points="3859,1227 3889,1227 3874,1260"/>
</g>
</svg>
</body></html>
